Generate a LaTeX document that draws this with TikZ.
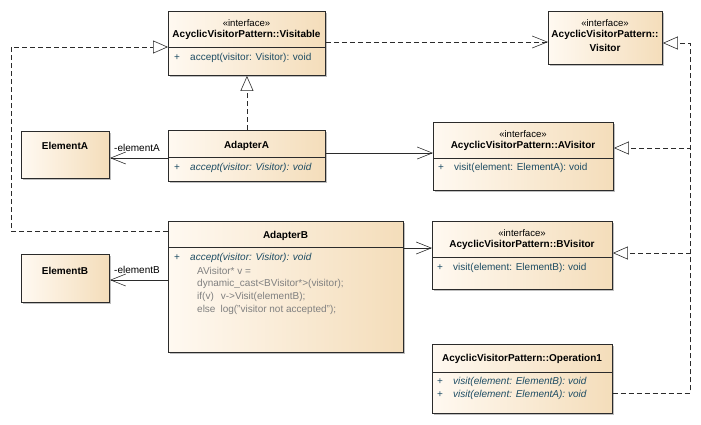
\documentclass[tikz,border=0pt]{standalone}
\usepackage{fontspec}
\setmainfont{Liberation Sans}
\usepackage{tikz}
\usetikzlibrary{arrows.meta,shadows}
\definecolor{boxleft}{HTML}{FFF9F1}
\definecolor{boxright}{HTML}{F4DDBA}
\definecolor{boxline}{HTML}{2B2B2B}
\definecolor{optext}{HTML}{1D4C63}
\definecolor{codetext}{HTML}{808080}

\begin{document}
\begin{tikzpicture}[x=1pt, y=-1pt,
        font=\fontsize{10}{12}\selectfont,
        cls/.style={draw=boxline, line width=0.9pt, left color=boxleft, right color=boxright, anchor=north west, inner sep=0pt,
            drop shadow={shadow xshift=1.5pt, shadow yshift=-1.5pt, fill=black, opacity=0.25}},
        title/.style={font=\fontsize{10}{12}\selectfont\bfseries},
        stereo/.style={font=\fontsize{9.6}{11}\selectfont},
        op/.style={anchor=west, inner sep=0pt, text=optext},
        code/.style={anchor=west, inner sep=0pt, text=codetext},
        role/.style={pos=1, anchor=base west, inner sep=0pt, xshift=4pt, yshift=7pt},
        sep/.style={draw=boxline, line width=0.9pt},
        dep/.style={draw=boxline, line width=0.6pt, dash pattern=on 5pt off 3pt, -{Straight Barb[length=15pt, width=12pt]}},
        assoc/.style={draw=boxline, line width=0.6pt, -{Straight Barb[length=15pt, width=12pt]}},
        real/.style={draw=boxline, line width=0.6pt, dash pattern=on 5pt off 3pt, -{Triangle[open, fill=white, length=15pt, width=13pt]}}]
        \useasboundingbox (0,0) rectangle (701,424);
        % Visitable interface
        \node[cls, minimum width=157pt, minimum height=64pt] (Vis) at (168,11) {};
        \draw[sep] (Vis.west |- 0,47) -- (Vis.east |- 0,47);
        \node[stereo] at (246.5,23) {«interface»};
        \node[title] at (246.5,35) {AcyclicVisitorPattern::Visitable};
        \node[op] at (174,58) {+};
        \node[op] at (190,58) {accept(visitor: Visitor): void};
        % Visitor interface
        \node[cls, minimum width=114pt, minimum height=53pt] (Vtor) at (548,11) {};
        \node[stereo] at (605,23) {«interface»};
        \node[title] at (605,35) {AcyclicVisitorPattern::};
        \node[title] at (605,48) {Visitor};
        % AVisitor interface
        \node[cls, minimum width=180pt, minimum height=68pt] (AVis) at (433,122) {};
        \draw[sep] (AVis.west |- 0,158) -- (AVis.east |- 0,158);
        \node[stereo] at (523,134) {«interface»};
        \node[title] at (523,146) {AcyclicVisitorPattern::AVisitor};
        \node[op] at (438,168) {+};
        \node[op] at (454,168) {visit(element: ElementA): void};
        % ElementA
        \node[cls, minimum width=88pt, minimum height=47pt] (ElA) at (21,131) {};
        \node[title] at (65,146) {ElementA};
        % AdapterA
        \node[cls, minimum width=157pt, minimum height=51pt] (AdA) at (168,130) {};
        \draw[sep] (AdA.west |- 0,157) -- (AdA.east |- 0,157);
        \node[title] at (246.5,146) {AdapterA};
        \node[op] at (174,168) {+};
        \node[op] at (190,168) {\itshape accept(visitor: Visitor): void};
        % AdapterB
        \node[cls, minimum width=235pt, minimum height=131pt] (AdB) at (168,221) {};
        \draw[sep] (AdB.west |- 0,247) -- (AdB.east |- 0,247);
        \node[title] at (285.5,236) {AdapterB};
        \node[op] at (174,258) {+};
        \node[op] at (190,258) {\itshape accept(visitor: Visitor): void};
        \node[code] at (197,271) {AVisitor* v =};
        \node[code] at (197,284) {dynamic\_cast<BVisitor*>(visitor);};
        \node[code] at (197,297) {if(v)\hspace{7pt}v->Visit(elementB);};
        \node[code] at (197,310) {else\hspace{5pt}log("visitor not accepted");};
        % ElementB
        \node[cls, minimum width=88pt, minimum height=48pt] (ElB) at (21,254) {};
        \node[title] at (65,271) {ElementB};
        % BVisitor interface
        \node[cls, minimum width=180pt, minimum height=68pt] (BVis) at (432,221) {};
        \draw[sep] (BVis.west |- 0,257) -- (BVis.east |- 0,257);
        \node[stereo] at (522,233) {«interface»};
        \node[title] at (522,245) {AcyclicVisitorPattern::BVisitor};
        \node[op] at (437,268) {+};
        \node[op] at (453,268) {visit(element: ElementB): void};
        % Operation1
        \node[cls, minimum width=180pt, minimum height=69pt] (Op1) at (432,344) {};
        \draw[sep] (Op1.west |- 0,372) -- (Op1.east |- 0,372);
        \node[title] at (522,359) {AcyclicVisitorPattern::Operation1};
        \node[op] at (437,382) {+};
        \node[op] at (453,382) {\itshape visit(element: ElementB): void};
        \node[op] at (437,395) {+};
        \node[op] at (453,395) {\itshape visit(element: ElementA): void};
        % Connectors
        \coordinate (lft) at (11,47);
        \coordinate (rgt) at (690,393);
        \draw[dep] (Vis.east |- 0,42) -- (Vtor.west |- 0,42);
        \draw[real] (AdB.west |- 0,231) -| (lft) -- (Vis.west |- lft);
        \draw[real] (AdA.north) -- (Vis.south);
        \draw[assoc] (AdA.west |- 0,158) -- (ElA.east |- 0,158) node[role] {-elementA};
        \draw[assoc] (AdA.east |- 0,153) -- (AVis.west |- 0,153);
        \draw[assoc] (AdB.west |- 0,280) -- (ElB.east |- 0,280) node[role] {-elementB};
        \draw[assoc] (AdB.east |- 0,248) -- (BVis.west |- 0,248);
        \draw[real] (Op1.east |- rgt) -- (rgt) |- (Vtor.east |- 0,43);
        \draw[real] (Op1.east |- rgt) -- (rgt) |- (AVis.east |- 0,148);
        \draw[real] (Op1.east |- rgt) -- (rgt) |- (BVis.east |- 0,253);
    \end{tikzpicture}
\end{document}
